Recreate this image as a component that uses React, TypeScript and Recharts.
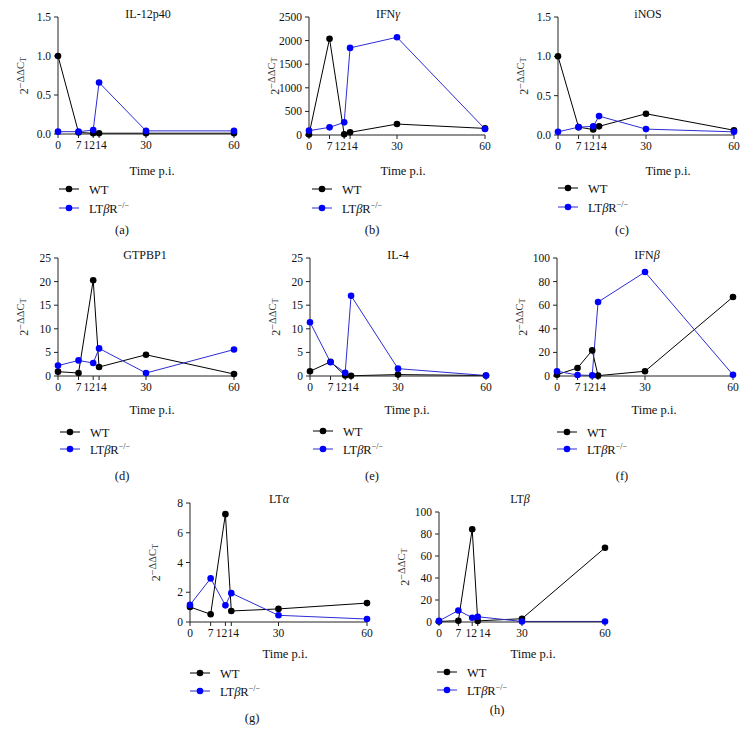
import { LineChart, Line, XAxis, YAxis } from "recharts";

// time points (days p.i.)
const times = [0, 7, 12, 14, 30, 60];

// 2^-ddCt values, WT and LTbR-/- per gene
const il12Wt = [1.0, 0.02, 0.01, 0.01, 0.01, 0.01];
const il12Ko = [0.03, 0.03, 0.05, 0.66, 0.04, 0.04];
const ifngWt = [10, 2040, 14, 56, 232, 140];
const ifngKo = [92, 162, 268, 1845, 2070, 127];
const inosWt = [1.0, 0.1, 0.07, 0.11, 0.27, 0.06];
const inosKo = [0.04, 0.1, 0.11, 0.24, 0.075, 0.04];
const gtpWt = [0.92, 0.63, 20.3, 1.9, 4.5, 0.42];
const gtpKo = [2.2, 3.3, 2.75, 5.85, 0.63, 5.6];
const il4Wt = [1.0, 3.0, 0.1, 0.05, 0.3, 0.1];
const il4Ko = [11.4, 2.9, 0.7, 17.0, 1.56, 0.1];
const ifnbWt = [1.1, 6.8, 21.7, 0.3, 4.0, 67];
const ifnbKo = [4, 0.85, 0.5, 62.7, 88.1, 1];
const ltaWt = [1.01, 0.52, 7.25, 0.74, 0.88, 1.27];
const ltaKo = [1.15, 2.93, 1.12, 1.94, 0.45, 0.2];
const ltbWt = [0.5, 1.2, 84.3, 1.0, 3.0, 67.5];
const ltbKo = [1.0, 10.5, 3.9, 4.8, 0.5, 0.5];

// y tick labels
const ticks15 = [0, 0.5, 1.0, 1.5];
const ticks2500 = [0, 500, 1000, 1500, 2000, 2500];
const ticks25 = [0, 5, 10, 15, 20, 25];
const ticks100 = [0, 20, 40, 60, 80, 100];
const ticks8 = [0, 2, 4, 6, 8];

const FONT = '"Liberation Serif", "DejaVu Serif", serif';
const BLUE_LINE = "#2d2dd2";
const BLUE_DOT = "#0000ff";
const AXIS = "#222";

// nudges so "12" and "14" don't sit on top of each other
const nudgeStd: Record<number, number> = { 12: -4, 14: 2 };
const nudgeH: Record<number, number> = { 12: -1, 14: 7 };

const panels = [
  { id: "a", title: "IL-12p40", wt: il12Wt, ko: il12Ko, ticks: ticks15, fmt: (v: number) => v.toFixed(1),
    x: 58, right: 234, top: 17, bottom: 134, titleX: 148, titleY: 18, timeX: 152, timeY: 175, legX: 59, leg1: 189, leg2: 208, capX: 122, capY: 234 },
  { id: "b", title: "IFN", greek: "γ", wt: ifngWt, ko: ifngKo, ticks: ticks2500,
    x: 309, right: 485, top: 17, bottom: 135, titleX: 388, titleY: 18, timeX: 403, timeY: 175, legX: 312, leg1: 189, leg2: 208, capX: 372, capY: 234 },
  { id: "c", title: "iNOS", wt: inosWt, ko: inosKo, ticks: ticks15, fmt: (v: number) => v.toFixed(1),
    x: 558, right: 734, top: 17, bottom: 135, titleX: 648, titleY: 18, timeX: 668, timeY: 175, legX: 558, leg1: 188, leg2: 207, capX: 622, capY: 234 },
  { id: "d", title: "GTPBP1", wt: gtpWt, ko: gtpKo, ticks: ticks25,
    x: 58, right: 234, top: 258, bottom: 376, titleX: 145, titleY: 259, timeX: 152, timeY: 414, legX: 60, leg1: 432, leg2: 449, capX: 122, capY: 480 },
  { id: "e", title: "IL-4", wt: il4Wt, ko: il4Ko, ticks: ticks25,
    x: 310, right: 486, top: 258, bottom: 376, titleX: 398, titleY: 259, timeX: 407, timeY: 414, legX: 313, leg1: 431, leg2: 449, capX: 372, capY: 480 },
  { id: "f", title: "IFN", greek: "β", wt: ifnbWt, ko: ifnbKo, ticks: ticks100,
    x: 557, right: 733, top: 258, bottom: 376, titleX: 647, titleY: 259, timeX: 654, timeY: 414, legX: 557, leg1: 432, leg2: 449, capX: 622, capY: 480 },
  { id: "g", title: "LT", greek: "α", wt: ltaWt, ko: ltaKo, ticks: ticks8,
    x: 190, right: 367, top: 503, bottom: 622, titleX: 279, titleY: 503, timeX: 285, timeY: 658, legX: 190, leg1: 673, leg2: 691, capX: 252, capY: 722 },
  { id: "h", title: "LT", greek: "β", wt: ltbWt, ko: ltbKo, ticks: ticks100, nudge: nudgeH,
    x: 439, right: 605, top: 512, bottom: 622, titleX: 520, titleY: 503, timeX: 533, timeY: 658, legX: 437, leg1: 672, leg2: 690, capX: 497, capY: 714 },
];

const ML = 20;
const YW = 40;
const MT = 10;
const MR = 10;
const XH = 30;

const tickStyle = { fill: "#111", fontSize: 11.5, fontFamily: FONT };

const TimeTick = ({ x, y, payload, nudge }: any) => {
  const dx = nudge[payload.value] || 0;
  return (
    <text x={x + dx} y={y} dy="0.71em" textAnchor="middle" {...tickStyle}>
      {payload.value}
    </text>
  );
};

const Panel = ({ p }: { p: any }) => {
  const data = times.map((t, i) => ({ t, wt: p.wt[i], ko: p.ko[i] }));
  const plotW = p.right - p.x;
  const plotH = p.bottom - p.top;
  const yMax = p.ticks[p.ticks.length - 1];
  const nudge = p.nudge || nudgeStd;
  return (
    <div style={{ position: "absolute", left: p.x - ML - YW, top: p.top - MT }}>
      <LineChart
        width={ML + YW + plotW + MR}
        height={MT + plotH + XH}
        data={data}
        margin={{ top: MT, right: MR, left: ML, bottom: 0 }}
      >
        <XAxis
          dataKey="t"
          type="number"
          domain={[0, 60]}
          ticks={times}
          interval={0}
          height={XH}
          tick={(props: any) => <TimeTick {...props} nudge={nudge} />}
          tickSize={4}
          tickMargin={3}
          stroke={AXIS}
        />
        <YAxis
          type="number"
          domain={[0, yMax]}
          ticks={p.ticks}
          interval={0}
          width={YW}
          tick={tickStyle}
          tickSize={4}
          tickMargin={3}
          tickFormatter={p.fmt}
          stroke={AXIS}
        />
        <Line
          dataKey="wt"
          stroke="#000"
          strokeWidth={1}
          dot={{ r: 3.3, fill: "#000", stroke: "#000", strokeWidth: 0 }}
          isAnimationActive={false}
        />
        <Line
          dataKey="ko"
          stroke={BLUE_LINE}
          strokeWidth={1}
          dot={{ r: 3.3, fill: BLUE_DOT, stroke: BLUE_DOT, strokeWidth: 0 }}
          isAnimationActive={false}
        />
      </LineChart>
    </div>
  );
};

const PanelText = ({ p }: { p: any }) => {
  const midY = (p.top + p.bottom) / 2;
  const lx = p.x - 30;
  return (
    <g fontFamily={FONT} fill="#111">
      <text x={p.titleX} y={p.titleY} fontSize={12} textAnchor="middle">
        {p.title}
        {p.greek && <tspan fontStyle="italic">{p.greek}</tspan>}
      </text>
      <text x={lx} y={midY} fontSize={12} textAnchor="middle" transform={`rotate(-90 ${lx} ${midY})`} fill="#333">
        2<tspan fontSize={10.5} dy={-4}>−ΔΔC</tspan>
        <tspan fontSize={8.5} dy={2}>T</tspan>
      </text>
      <text x={p.timeX} y={p.timeY} fontSize={12.5} textAnchor="middle">
        Time p.i.
      </text>
      <line x1={p.legX} x2={p.legX + 20} y1={p.leg1} y2={p.leg1} stroke="#000" strokeWidth={1} />
      <circle cx={p.legX + 10} cy={p.leg1} r={3.3} fill="#000" />
      <text x={p.legX + 30} y={p.leg1 + 4.5} fontSize={12.5}>WT</text>
      <line x1={p.legX} x2={p.legX + 20} y1={p.leg2} y2={p.leg2} stroke={BLUE_LINE} strokeWidth={1} />
      <circle cx={p.legX + 10} cy={p.leg2} r={3.3} fill={BLUE_DOT} />
      <text x={p.legX + 30} y={p.leg2 + 4.5} fontSize={12.5}>
        LT<tspan fontStyle="italic">β</tspan>R<tspan fontSize={8} dy={-5}>−/−</tspan>
      </text>
      <text x={p.capX} y={p.capY} fontSize={12.5} textAnchor="middle">
        ({p.id})
      </text>
    </g>
  );
};

export default function App() {
  return (
    <div style={{ position: "absolute", left: 0, top: 0, width: 748, height: 745, background: "#fff", overflow: "hidden" }}>
      {panels.map((p) => (
        <Panel key={p.id} p={p} />
      ))}
      <svg width={748} height={745} style={{ position: "absolute", left: 0, top: 0, pointerEvents: "none" }}>
        {panels.map((p) => (
          <PanelText key={p.id} p={p} />
        ))}
      </svg>
    </div>
  );
}
